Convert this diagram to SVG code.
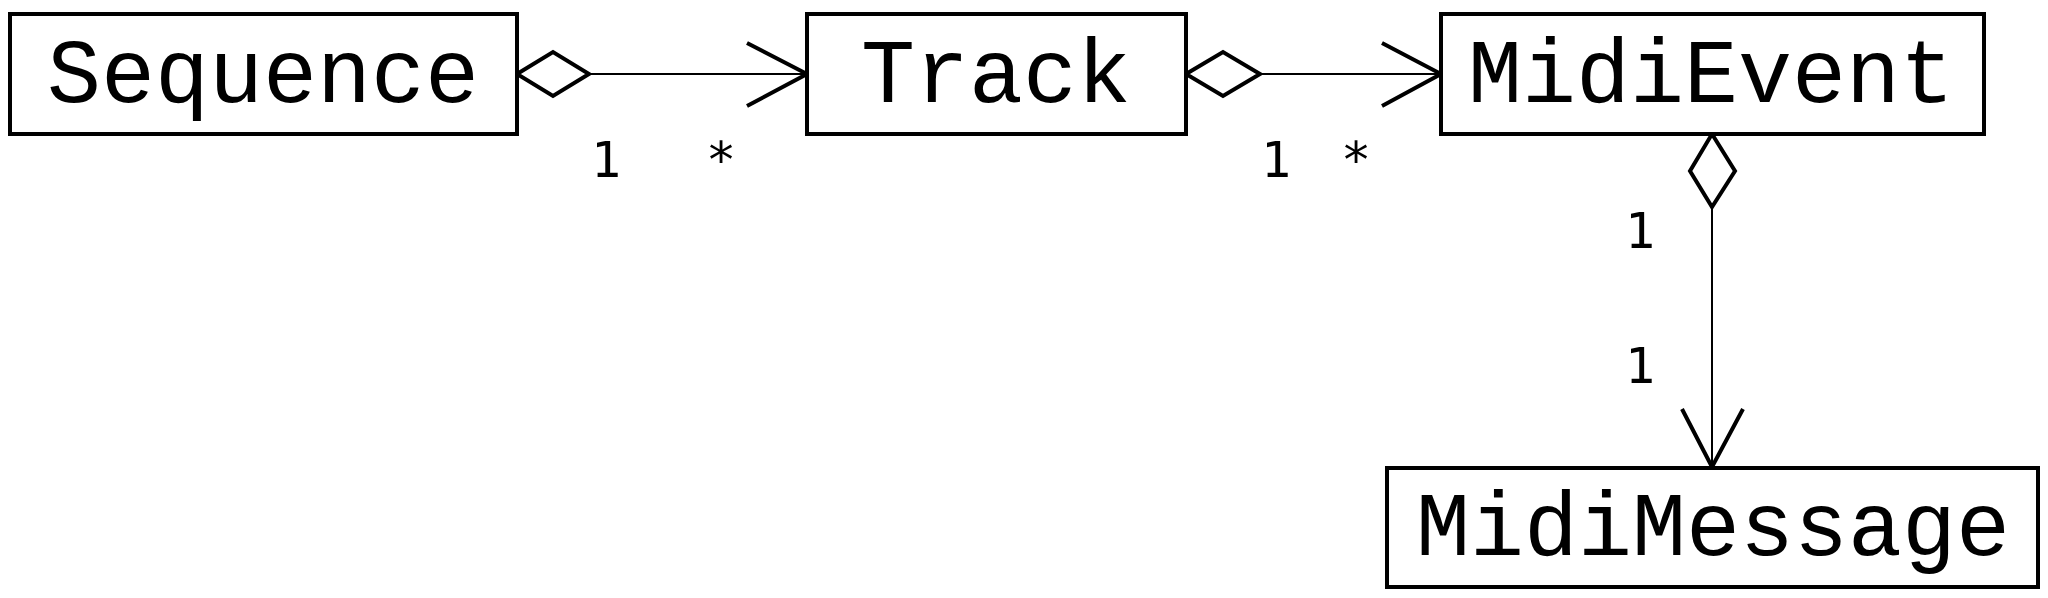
<svg xmlns="http://www.w3.org/2000/svg" width="2048" height="598" viewBox="0 0 2048 598">
<style>
.box{fill:#fff;stroke:#000;stroke-width:4}
.name{font-family:"Liberation Mono","DejaVu Sans Mono",monospace;font-size:90px;fill:#000;text-anchor:middle}
.mult{font-family:"DejaVu Sans Mono","Liberation Mono",monospace;font-size:50px;fill:#000;text-anchor:middle}
.line{stroke:#000;stroke-width:2;fill:none}
.dia{fill:#fff;stroke:#000;stroke-width:4;stroke-linejoin:miter}
.head{fill:none;stroke:#000;stroke-width:4;stroke-linejoin:miter}
</style>
<rect width="2048" height="598" fill="#fff"/>
<g id="connectors">
  <line class="line" x1="589" y1="74" x2="807" y2="74"/>
  <polygon class="dia" points="517,74 553,52 589,74 553,96"/>
  <polyline class="head" points="747,43 807,74 747,106"/>
  <line class="line" x1="1260" y1="74" x2="1441" y2="74"/>
  <polygon class="dia" points="1186,74 1223,52 1260,74 1223,96"/>
  <polyline class="head" points="1382,43 1441,74 1382,106"/>
  <line class="line" x1="1712" y1="207" x2="1712" y2="467"/>
  <polygon class="dia" points="1712,134 1735,171 1712,207 1690,171"/>
  <polyline class="head" points="1682,409 1712,467 1743,409"/>
  <text class="mult" x="606" y="177">1</text>
  <text class="mult" x="721" y="177">*</text>
  <text class="mult" x="1276" y="177">1</text>
  <text class="mult" x="1356" y="177">*</text>
  <text class="mult" x="1640" y="248">1</text>
  <text class="mult" x="1640" y="383">1</text>
</g>
<g id="Sequence">
  <rect class="box" x="10" y="14" width="507" height="120"/>
  <text class="name" x="263" y="102">Sequence</text>
</g>
<g id="Track">
  <rect class="box" x="807" y="14" width="379" height="120"/>
  <text class="name" x="996" y="102">Track</text>
</g>
<g id="MidiEvent">
  <rect class="box" x="1441" y="14" width="543" height="120"/>
  <text class="name" x="1711" y="102">MidiEvent</text>
</g>
<g id="MidiMessage">
  <rect class="box" x="1387" y="468" width="651" height="119"/>
  <text class="name" x="1713" y="555">MidiMessage</text>
</g>
</svg>
